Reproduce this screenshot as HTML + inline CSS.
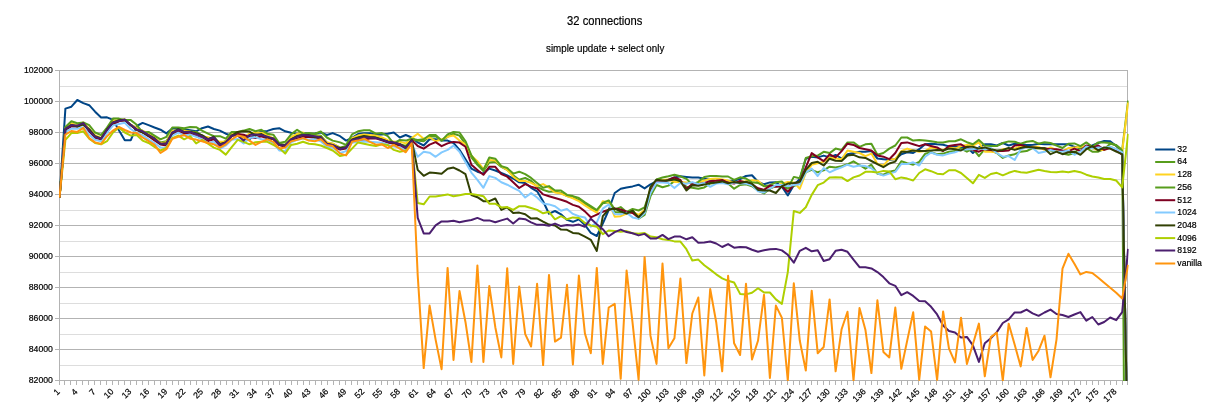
<!DOCTYPE html>
<html><head><meta charset="utf-8"><title>32 connections</title>
<style>
html,body{margin:0;padding:0;background:#fff;}
body{width:1211px;height:413px;overflow:hidden;}
svg{display:block;}
text{font-family:"Liberation Sans",Arial,sans-serif;fill:#000;stroke:#000;stroke-width:0.2px;}
</style></head><body>
<svg width="1211" height="413" viewBox="0 0 1211 413">
<rect x="0" y="0" width="1211" height="413" fill="#ffffff"/>
<defs><clipPath id="plot"><rect x="59" y="69" width="1069.6" height="311.9"/></clipPath></defs>
<g shape-rendering="crispEdges" fill="none" stroke-width="1">
<line x1="60" y1="86.5" x2="1127" y2="86.5" stroke="#dddddd"/>
<line x1="60" y1="117.5" x2="1127" y2="117.5" stroke="#dddddd"/>
<line x1="60" y1="148.5" x2="1127" y2="148.5" stroke="#dddddd"/>
<line x1="60" y1="179.5" x2="1127" y2="179.5" stroke="#dddddd"/>
<line x1="60" y1="210.5" x2="1127" y2="210.5" stroke="#dddddd"/>
<line x1="60" y1="241.5" x2="1127" y2="241.5" stroke="#dddddd"/>
<line x1="60" y1="272.5" x2="1127" y2="272.5" stroke="#dddddd"/>
<line x1="60" y1="303.5" x2="1127" y2="303.5" stroke="#dddddd"/>
<line x1="60" y1="334.5" x2="1127" y2="334.5" stroke="#dddddd"/>
<line x1="60" y1="365.5" x2="1127" y2="365.5" stroke="#dddddd"/>
<line x1="55" y1="70.5" x2="1128" y2="70.5" stroke="#b3b3b3"/>
<line x1="55" y1="101.5" x2="1128" y2="101.5" stroke="#b3b3b3"/>
<line x1="55" y1="132.5" x2="1128" y2="132.5" stroke="#b3b3b3"/>
<line x1="55" y1="163.5" x2="1128" y2="163.5" stroke="#b3b3b3"/>
<line x1="55" y1="194.5" x2="1128" y2="194.5" stroke="#b3b3b3"/>
<line x1="55" y1="225.5" x2="1128" y2="225.5" stroke="#b3b3b3"/>
<line x1="55" y1="256.5" x2="1128" y2="256.5" stroke="#b3b3b3"/>
<line x1="55" y1="287.5" x2="1128" y2="287.5" stroke="#b3b3b3"/>
<line x1="55" y1="318.5" x2="1128" y2="318.5" stroke="#b3b3b3"/>
<line x1="55" y1="349.5" x2="1128" y2="349.5" stroke="#b3b3b3"/>
<line x1="55" y1="380.5" x2="1128" y2="380.5" stroke="#b3b3b3"/>
<line x1="59.5" y1="70" x2="59.5" y2="385" stroke="#b3b3b3"/>
<line x1="1127.5" y1="70" x2="1127.5" y2="381" stroke="#b3b3b3"/>
<line x1="59.5" y1="381" x2="59.5" y2="385" stroke="#b3b3b3"/>
<line x1="64.5" y1="381" x2="64.5" y2="385" stroke="#b3b3b3"/>
<line x1="70.5" y1="381" x2="70.5" y2="385" stroke="#b3b3b3"/>
<line x1="76.5" y1="381" x2="76.5" y2="385" stroke="#b3b3b3"/>
<line x1="82.5" y1="381" x2="82.5" y2="385" stroke="#b3b3b3"/>
<line x1="88.5" y1="381" x2="88.5" y2="385" stroke="#b3b3b3"/>
<line x1="94.5" y1="381" x2="94.5" y2="385" stroke="#b3b3b3"/>
<line x1="100.5" y1="381" x2="100.5" y2="385" stroke="#b3b3b3"/>
<line x1="106.5" y1="381" x2="106.5" y2="385" stroke="#b3b3b3"/>
<line x1="112.5" y1="381" x2="112.5" y2="385" stroke="#b3b3b3"/>
<line x1="118.5" y1="381" x2="118.5" y2="385" stroke="#b3b3b3"/>
<line x1="124.5" y1="381" x2="124.5" y2="385" stroke="#b3b3b3"/>
<line x1="130.5" y1="381" x2="130.5" y2="385" stroke="#b3b3b3"/>
<line x1="136.5" y1="381" x2="136.5" y2="385" stroke="#b3b3b3"/>
<line x1="142.5" y1="381" x2="142.5" y2="385" stroke="#b3b3b3"/>
<line x1="148.5" y1="381" x2="148.5" y2="385" stroke="#b3b3b3"/>
<line x1="154.5" y1="381" x2="154.5" y2="385" stroke="#b3b3b3"/>
<line x1="160.5" y1="381" x2="160.5" y2="385" stroke="#b3b3b3"/>
<line x1="166.5" y1="381" x2="166.5" y2="385" stroke="#b3b3b3"/>
<line x1="172.5" y1="381" x2="172.5" y2="385" stroke="#b3b3b3"/>
<line x1="178.5" y1="381" x2="178.5" y2="385" stroke="#b3b3b3"/>
<line x1="184.5" y1="381" x2="184.5" y2="385" stroke="#b3b3b3"/>
<line x1="190.5" y1="381" x2="190.5" y2="385" stroke="#b3b3b3"/>
<line x1="196.5" y1="381" x2="196.5" y2="385" stroke="#b3b3b3"/>
<line x1="202.5" y1="381" x2="202.5" y2="385" stroke="#b3b3b3"/>
<line x1="208.5" y1="381" x2="208.5" y2="385" stroke="#b3b3b3"/>
<line x1="214.5" y1="381" x2="214.5" y2="385" stroke="#b3b3b3"/>
<line x1="220.5" y1="381" x2="220.5" y2="385" stroke="#b3b3b3"/>
<line x1="226.5" y1="381" x2="226.5" y2="385" stroke="#b3b3b3"/>
<line x1="232.5" y1="381" x2="232.5" y2="385" stroke="#b3b3b3"/>
<line x1="238.5" y1="381" x2="238.5" y2="385" stroke="#b3b3b3"/>
<line x1="244.5" y1="381" x2="244.5" y2="385" stroke="#b3b3b3"/>
<line x1="250.5" y1="381" x2="250.5" y2="385" stroke="#b3b3b3"/>
<line x1="256.5" y1="381" x2="256.5" y2="385" stroke="#b3b3b3"/>
<line x1="262.5" y1="381" x2="262.5" y2="385" stroke="#b3b3b3"/>
<line x1="268.5" y1="381" x2="268.5" y2="385" stroke="#b3b3b3"/>
<line x1="273.5" y1="381" x2="273.5" y2="385" stroke="#b3b3b3"/>
<line x1="279.5" y1="381" x2="279.5" y2="385" stroke="#b3b3b3"/>
<line x1="285.5" y1="381" x2="285.5" y2="385" stroke="#b3b3b3"/>
<line x1="291.5" y1="381" x2="291.5" y2="385" stroke="#b3b3b3"/>
<line x1="297.5" y1="381" x2="297.5" y2="385" stroke="#b3b3b3"/>
<line x1="303.5" y1="381" x2="303.5" y2="385" stroke="#b3b3b3"/>
<line x1="309.5" y1="381" x2="309.5" y2="385" stroke="#b3b3b3"/>
<line x1="315.5" y1="381" x2="315.5" y2="385" stroke="#b3b3b3"/>
<line x1="321.5" y1="381" x2="321.5" y2="385" stroke="#b3b3b3"/>
<line x1="327.5" y1="381" x2="327.5" y2="385" stroke="#b3b3b3"/>
<line x1="333.5" y1="381" x2="333.5" y2="385" stroke="#b3b3b3"/>
<line x1="339.5" y1="381" x2="339.5" y2="385" stroke="#b3b3b3"/>
<line x1="345.5" y1="381" x2="345.5" y2="385" stroke="#b3b3b3"/>
<line x1="351.5" y1="381" x2="351.5" y2="385" stroke="#b3b3b3"/>
<line x1="357.5" y1="381" x2="357.5" y2="385" stroke="#b3b3b3"/>
<line x1="363.5" y1="381" x2="363.5" y2="385" stroke="#b3b3b3"/>
<line x1="369.5" y1="381" x2="369.5" y2="385" stroke="#b3b3b3"/>
<line x1="375.5" y1="381" x2="375.5" y2="385" stroke="#b3b3b3"/>
<line x1="381.5" y1="381" x2="381.5" y2="385" stroke="#b3b3b3"/>
<line x1="387.5" y1="381" x2="387.5" y2="385" stroke="#b3b3b3"/>
<line x1="393.5" y1="381" x2="393.5" y2="385" stroke="#b3b3b3"/>
<line x1="399.5" y1="381" x2="399.5" y2="385" stroke="#b3b3b3"/>
<line x1="405.5" y1="381" x2="405.5" y2="385" stroke="#b3b3b3"/>
<line x1="411.5" y1="381" x2="411.5" y2="385" stroke="#b3b3b3"/>
<line x1="417.5" y1="381" x2="417.5" y2="385" stroke="#b3b3b3"/>
<line x1="423.5" y1="381" x2="423.5" y2="385" stroke="#b3b3b3"/>
<line x1="429.5" y1="381" x2="429.5" y2="385" stroke="#b3b3b3"/>
<line x1="435.5" y1="381" x2="435.5" y2="385" stroke="#b3b3b3"/>
<line x1="441.5" y1="381" x2="441.5" y2="385" stroke="#b3b3b3"/>
<line x1="447.5" y1="381" x2="447.5" y2="385" stroke="#b3b3b3"/>
<line x1="453.5" y1="381" x2="453.5" y2="385" stroke="#b3b3b3"/>
<line x1="459.5" y1="381" x2="459.5" y2="385" stroke="#b3b3b3"/>
<line x1="465.5" y1="381" x2="465.5" y2="385" stroke="#b3b3b3"/>
<line x1="471.5" y1="381" x2="471.5" y2="385" stroke="#b3b3b3"/>
<line x1="477.5" y1="381" x2="477.5" y2="385" stroke="#b3b3b3"/>
<line x1="483.5" y1="381" x2="483.5" y2="385" stroke="#b3b3b3"/>
<line x1="488.5" y1="381" x2="488.5" y2="385" stroke="#b3b3b3"/>
<line x1="494.5" y1="381" x2="494.5" y2="385" stroke="#b3b3b3"/>
<line x1="500.5" y1="381" x2="500.5" y2="385" stroke="#b3b3b3"/>
<line x1="506.5" y1="381" x2="506.5" y2="385" stroke="#b3b3b3"/>
<line x1="512.5" y1="381" x2="512.5" y2="385" stroke="#b3b3b3"/>
<line x1="518.5" y1="381" x2="518.5" y2="385" stroke="#b3b3b3"/>
<line x1="524.5" y1="381" x2="524.5" y2="385" stroke="#b3b3b3"/>
<line x1="530.5" y1="381" x2="530.5" y2="385" stroke="#b3b3b3"/>
<line x1="536.5" y1="381" x2="536.5" y2="385" stroke="#b3b3b3"/>
<line x1="542.5" y1="381" x2="542.5" y2="385" stroke="#b3b3b3"/>
<line x1="548.5" y1="381" x2="548.5" y2="385" stroke="#b3b3b3"/>
<line x1="554.5" y1="381" x2="554.5" y2="385" stroke="#b3b3b3"/>
<line x1="560.5" y1="381" x2="560.5" y2="385" stroke="#b3b3b3"/>
<line x1="566.5" y1="381" x2="566.5" y2="385" stroke="#b3b3b3"/>
<line x1="572.5" y1="381" x2="572.5" y2="385" stroke="#b3b3b3"/>
<line x1="578.5" y1="381" x2="578.5" y2="385" stroke="#b3b3b3"/>
<line x1="584.5" y1="381" x2="584.5" y2="385" stroke="#b3b3b3"/>
<line x1="590.5" y1="381" x2="590.5" y2="385" stroke="#b3b3b3"/>
<line x1="596.5" y1="381" x2="596.5" y2="385" stroke="#b3b3b3"/>
<line x1="602.5" y1="381" x2="602.5" y2="385" stroke="#b3b3b3"/>
<line x1="608.5" y1="381" x2="608.5" y2="385" stroke="#b3b3b3"/>
<line x1="614.5" y1="381" x2="614.5" y2="385" stroke="#b3b3b3"/>
<line x1="620.5" y1="381" x2="620.5" y2="385" stroke="#b3b3b3"/>
<line x1="626.5" y1="381" x2="626.5" y2="385" stroke="#b3b3b3"/>
<line x1="632.5" y1="381" x2="632.5" y2="385" stroke="#b3b3b3"/>
<line x1="638.5" y1="381" x2="638.5" y2="385" stroke="#b3b3b3"/>
<line x1="644.5" y1="381" x2="644.5" y2="385" stroke="#b3b3b3"/>
<line x1="650.5" y1="381" x2="650.5" y2="385" stroke="#b3b3b3"/>
<line x1="656.5" y1="381" x2="656.5" y2="385" stroke="#b3b3b3"/>
<line x1="662.5" y1="381" x2="662.5" y2="385" stroke="#b3b3b3"/>
<line x1="668.5" y1="381" x2="668.5" y2="385" stroke="#b3b3b3"/>
<line x1="674.5" y1="381" x2="674.5" y2="385" stroke="#b3b3b3"/>
<line x1="680.5" y1="381" x2="680.5" y2="385" stroke="#b3b3b3"/>
<line x1="686.5" y1="381" x2="686.5" y2="385" stroke="#b3b3b3"/>
<line x1="692.5" y1="381" x2="692.5" y2="385" stroke="#b3b3b3"/>
<line x1="698.5" y1="381" x2="698.5" y2="385" stroke="#b3b3b3"/>
<line x1="703.5" y1="381" x2="703.5" y2="385" stroke="#b3b3b3"/>
<line x1="709.5" y1="381" x2="709.5" y2="385" stroke="#b3b3b3"/>
<line x1="715.5" y1="381" x2="715.5" y2="385" stroke="#b3b3b3"/>
<line x1="721.5" y1="381" x2="721.5" y2="385" stroke="#b3b3b3"/>
<line x1="727.5" y1="381" x2="727.5" y2="385" stroke="#b3b3b3"/>
<line x1="733.5" y1="381" x2="733.5" y2="385" stroke="#b3b3b3"/>
<line x1="739.5" y1="381" x2="739.5" y2="385" stroke="#b3b3b3"/>
<line x1="745.5" y1="381" x2="745.5" y2="385" stroke="#b3b3b3"/>
<line x1="751.5" y1="381" x2="751.5" y2="385" stroke="#b3b3b3"/>
<line x1="757.5" y1="381" x2="757.5" y2="385" stroke="#b3b3b3"/>
<line x1="763.5" y1="381" x2="763.5" y2="385" stroke="#b3b3b3"/>
<line x1="769.5" y1="381" x2="769.5" y2="385" stroke="#b3b3b3"/>
<line x1="775.5" y1="381" x2="775.5" y2="385" stroke="#b3b3b3"/>
<line x1="781.5" y1="381" x2="781.5" y2="385" stroke="#b3b3b3"/>
<line x1="787.5" y1="381" x2="787.5" y2="385" stroke="#b3b3b3"/>
<line x1="793.5" y1="381" x2="793.5" y2="385" stroke="#b3b3b3"/>
<line x1="799.5" y1="381" x2="799.5" y2="385" stroke="#b3b3b3"/>
<line x1="805.5" y1="381" x2="805.5" y2="385" stroke="#b3b3b3"/>
<line x1="811.5" y1="381" x2="811.5" y2="385" stroke="#b3b3b3"/>
<line x1="817.5" y1="381" x2="817.5" y2="385" stroke="#b3b3b3"/>
<line x1="823.5" y1="381" x2="823.5" y2="385" stroke="#b3b3b3"/>
<line x1="829.5" y1="381" x2="829.5" y2="385" stroke="#b3b3b3"/>
<line x1="835.5" y1="381" x2="835.5" y2="385" stroke="#b3b3b3"/>
<line x1="841.5" y1="381" x2="841.5" y2="385" stroke="#b3b3b3"/>
<line x1="847.5" y1="381" x2="847.5" y2="385" stroke="#b3b3b3"/>
<line x1="853.5" y1="381" x2="853.5" y2="385" stroke="#b3b3b3"/>
<line x1="859.5" y1="381" x2="859.5" y2="385" stroke="#b3b3b3"/>
<line x1="865.5" y1="381" x2="865.5" y2="385" stroke="#b3b3b3"/>
<line x1="871.5" y1="381" x2="871.5" y2="385" stroke="#b3b3b3"/>
<line x1="877.5" y1="381" x2="877.5" y2="385" stroke="#b3b3b3"/>
<line x1="883.5" y1="381" x2="883.5" y2="385" stroke="#b3b3b3"/>
<line x1="889.5" y1="381" x2="889.5" y2="385" stroke="#b3b3b3"/>
<line x1="895.5" y1="381" x2="895.5" y2="385" stroke="#b3b3b3"/>
<line x1="901.5" y1="381" x2="901.5" y2="385" stroke="#b3b3b3"/>
<line x1="907.5" y1="381" x2="907.5" y2="385" stroke="#b3b3b3"/>
<line x1="912.5" y1="381" x2="912.5" y2="385" stroke="#b3b3b3"/>
<line x1="918.5" y1="381" x2="918.5" y2="385" stroke="#b3b3b3"/>
<line x1="924.5" y1="381" x2="924.5" y2="385" stroke="#b3b3b3"/>
<line x1="930.5" y1="381" x2="930.5" y2="385" stroke="#b3b3b3"/>
<line x1="936.5" y1="381" x2="936.5" y2="385" stroke="#b3b3b3"/>
<line x1="942.5" y1="381" x2="942.5" y2="385" stroke="#b3b3b3"/>
<line x1="948.5" y1="381" x2="948.5" y2="385" stroke="#b3b3b3"/>
<line x1="954.5" y1="381" x2="954.5" y2="385" stroke="#b3b3b3"/>
<line x1="960.5" y1="381" x2="960.5" y2="385" stroke="#b3b3b3"/>
<line x1="966.5" y1="381" x2="966.5" y2="385" stroke="#b3b3b3"/>
<line x1="972.5" y1="381" x2="972.5" y2="385" stroke="#b3b3b3"/>
<line x1="978.5" y1="381" x2="978.5" y2="385" stroke="#b3b3b3"/>
<line x1="984.5" y1="381" x2="984.5" y2="385" stroke="#b3b3b3"/>
<line x1="990.5" y1="381" x2="990.5" y2="385" stroke="#b3b3b3"/>
<line x1="996.5" y1="381" x2="996.5" y2="385" stroke="#b3b3b3"/>
<line x1="1002.5" y1="381" x2="1002.5" y2="385" stroke="#b3b3b3"/>
<line x1="1008.5" y1="381" x2="1008.5" y2="385" stroke="#b3b3b3"/>
<line x1="1014.5" y1="381" x2="1014.5" y2="385" stroke="#b3b3b3"/>
<line x1="1020.5" y1="381" x2="1020.5" y2="385" stroke="#b3b3b3"/>
<line x1="1026.5" y1="381" x2="1026.5" y2="385" stroke="#b3b3b3"/>
<line x1="1032.5" y1="381" x2="1032.5" y2="385" stroke="#b3b3b3"/>
<line x1="1038.5" y1="381" x2="1038.5" y2="385" stroke="#b3b3b3"/>
<line x1="1044.5" y1="381" x2="1044.5" y2="385" stroke="#b3b3b3"/>
<line x1="1050.5" y1="381" x2="1050.5" y2="385" stroke="#b3b3b3"/>
<line x1="1056.5" y1="381" x2="1056.5" y2="385" stroke="#b3b3b3"/>
<line x1="1062.5" y1="381" x2="1062.5" y2="385" stroke="#b3b3b3"/>
<line x1="1068.5" y1="381" x2="1068.5" y2="385" stroke="#b3b3b3"/>
<line x1="1074.5" y1="381" x2="1074.5" y2="385" stroke="#b3b3b3"/>
<line x1="1080.5" y1="381" x2="1080.5" y2="385" stroke="#b3b3b3"/>
<line x1="1086.5" y1="381" x2="1086.5" y2="385" stroke="#b3b3b3"/>
<line x1="1092.5" y1="381" x2="1092.5" y2="385" stroke="#b3b3b3"/>
<line x1="1098.5" y1="381" x2="1098.5" y2="385" stroke="#b3b3b3"/>
<line x1="1104.5" y1="381" x2="1104.5" y2="385" stroke="#b3b3b3"/>
<line x1="1110.5" y1="381" x2="1110.5" y2="385" stroke="#b3b3b3"/>
<line x1="1116.5" y1="381" x2="1116.5" y2="385" stroke="#b3b3b3"/>
<line x1="1122.5" y1="381" x2="1122.5" y2="385" stroke="#b3b3b3"/>
<line x1="1127.5" y1="381" x2="1127.5" y2="385" stroke="#b3b3b3"/>
</g>
<g clip-path="url(#plot)" fill="none" stroke-width="2.0" stroke-linejoin="round" stroke-linecap="butt">
<polyline stroke="#004586" points="59.5,197.6 65.4,108.6 71.4,106.7 77.3,100.0 83.3,103.1 89.2,105.2 95.1,111.7 101.1,117.5 107.0,117.3 113.0,119.8 118.9,130.3 124.8,140.2 130.8,140.2 136.7,126.0 142.6,122.9 148.6,125.1 154.5,127.5 160.5,129.7 166.4,133.4 172.3,128.6 178.3,128.6 184.2,129.4 190.2,130.2 196.1,131.3 202.0,128.2 208.0,126.5 213.9,129.0 219.9,130.6 225.8,133.7 231.7,135.6 237.7,134.1 243.6,135.6 249.5,139.3 255.5,134.1 261.4,131.3 267.4,130.9 273.3,129.0 279.2,128.2 285.2,131.3 291.1,132.7 297.1,133.7 303.0,133.1 308.9,133.7 314.9,133.5 320.8,132.5 326.8,135.0 332.7,133.1 340.1,136.2 346.1,140.6 352.0,137.9 358.0,134.1 364.0,133.3 369.9,133.3 375.9,134.8 381.9,134.4 387.8,133.7 393.8,132.5 399.8,137.5 405.8,135.0 411.7,137.5 417.7,142.4 423.7,145.5 429.6,139.3 435.6,139.3 441.6,140.6 447.6,140.6 453.5,143.0 459.5,149.9 465.5,159.2 471.4,168.6 477.4,171.7 483.4,173.6 489.3,168.6 495.3,170.5 501.3,173.0 507.2,175.4 513.2,178.5 519.2,182.3 525.2,182.9 531.1,187.8 537.1,191.3 543.1,201.2 549.0,213.7 555.0,211.0 561.0,214.3 567.0,219.9 572.9,221.8 578.9,219.3 584.9,224.9 590.8,232.9 596.8,236.0 602.8,223.6 608.7,210.0 614.7,193.0 620.7,188.7 626.6,187.4 632.6,186.4 638.6,184.7 644.6,188.4 650.5,184.3 656.5,181.3 662.5,182.1 668.4,179.8 674.4,177.4 680.4,176.3 686.4,176.9 692.3,177.4 698.3,177.5 704.3,178.7 710.2,179.8 716.2,180.6 722.2,180.6 728.1,181.3 734.1,180.6 740.1,179.0 746.0,176.0 752.0,175.3 758.0,181.8 764.0,184.3 769.9,182.4 775.9,182.2 781.9,186.8 787.8,195.5 793.8,185.2 799.8,179.0 805.8,158.7 811.7,156.8 817.7,157.4 823.7,155.6 829.6,157.4 835.6,154.9 841.6,158.5 847.5,154.2 853.5,153.0 859.5,151.7 865.4,151.7 871.4,151.1 877.4,158.5 883.4,159.2 889.3,159.8 895.3,159.2 901.3,154.2 907.2,152.3 913.2,153.0 919.2,149.2 925.1,144.3 931.1,143.7 937.1,144.3 943.1,144.7 949.0,146.4 955.0,146.4 961.0,147.1 966.9,147.1 972.9,153.0 978.9,147.4 984.8,144.3 990.8,144.3 996.8,145.5 1002.8,143.0 1008.7,145.5 1014.7,143.7 1020.7,144.3 1026.6,144.9 1032.6,144.9 1038.6,143.7 1044.5,144.3 1050.5,144.3 1056.5,144.3 1062.5,144.3 1068.4,144.3 1074.4,146.8 1080.4,148.0 1086.3,146.1 1092.3,145.5 1098.3,143.0 1104.2,140.9 1110.2,141.2 1116.2,146.1 1122.2,151.7 1128.1,473.5"/>
<polyline stroke="#579d1c" points="59.5,197.6 65.4,128.6 71.4,124.8 77.3,124.7 83.3,123.7 89.2,129.3 95.1,136.1 101.1,138.6 107.0,129.4 113.0,122.4 118.9,120.4 124.8,120.4 130.8,124.6 136.7,128.5 142.6,130.7 148.6,134.9 154.5,138.4 160.5,142.4 166.4,141.3 172.3,131.2 178.3,129.6 184.2,130.1 190.2,131.6 196.1,131.9 202.0,135.6 208.0,138.7 213.9,137.8 219.9,143.4 225.8,140.9 231.7,135.3 237.7,134.5 243.6,138.2 249.5,133.9 255.5,133.5 261.4,134.6 267.4,136.9 273.3,138.3 279.2,144.0 285.2,144.8 291.1,138.5 297.1,135.1 303.0,134.7 308.9,135.3 314.9,135.0 320.8,135.7 326.8,142.7 332.7,143.7 340.1,147.7 346.1,146.0 352.0,138.2 358.0,137.5 364.0,135.0 369.9,136.6 375.9,137.2 381.9,137.9 387.8,141.2 393.8,142.5 399.8,144.1 405.8,146.0 411.7,139.5 417.7,140.6 423.7,141.2 429.6,136.8 435.6,136.2 441.6,140.6 447.6,136.8 453.5,133.7 459.5,135.6 465.5,144.3 471.4,157.3 477.4,164.9 483.4,171.1 489.3,162.4 495.3,161.8 501.3,166.9 507.2,169.9 513.2,175.4 519.2,179.8 525.2,177.9 531.1,181.0 537.1,186.6 543.1,189.9 549.0,191.8 555.0,191.4 561.0,192.9 567.0,196.1 572.9,197.6 578.9,199.9 584.9,203.8 590.8,207.7 596.8,210.6 602.8,203.2 608.7,202.2 614.7,211.9 620.7,212.5 626.6,212.5 632.6,210.0 638.6,218.7 644.6,215.0 650.5,196.1 656.5,185.0 662.5,187.2 668.4,185.6 674.4,181.2 680.4,181.2 686.4,186.8 692.3,187.7 698.3,188.7 704.3,187.4 710.2,183.6 716.2,182.9 722.2,182.1 728.1,183.6 734.1,188.7 740.1,185.0 746.0,184.3 752.0,186.2 758.0,190.5 764.0,193.4 769.9,188.7 775.9,186.2 781.9,186.2 787.8,188.7 793.8,186.2 799.8,183.6 805.8,172.3 811.7,169.8 817.7,172.3 823.7,170.4 829.6,166.7 835.6,167.5 841.6,166.2 847.5,164.3 853.5,161.3 859.5,165.0 865.4,168.7 871.4,164.7 877.4,173.7 883.4,174.7 889.3,171.8 895.3,170.6 901.3,161.3 907.2,163.1 913.2,164.7 919.2,161.9 925.1,153.8 931.1,152.3 937.1,154.2 943.1,153.6 949.0,151.7 955.0,151.1 961.0,148.6 966.9,151.7 972.9,148.6 978.9,156.1 984.8,149.2 990.8,150.5 996.8,153.0 1002.8,157.9 1008.7,155.4 1014.7,154.2 1020.7,151.7 1026.6,151.1 1032.6,148.0 1038.6,148.6 1044.5,148.0 1050.5,150.5 1056.5,151.7 1062.5,153.6 1068.4,154.8 1074.4,153.0 1080.4,147.4 1086.3,148.0 1092.3,151.7 1098.3,151.7 1104.2,149.2 1110.2,143.7 1116.2,144.9 1122.2,149.9 1128.1,100.6"/>
<polyline stroke="#ffd320" points="59.5,197.6 65.4,128.1 71.4,123.1 77.3,125.6 83.3,122.5 89.2,129.0 95.1,135.5 101.1,137.9 107.0,128.5 113.0,120.2 118.9,120.4 124.8,119.4 130.8,124.9 136.7,127.7 142.6,131.2 148.6,132.8 154.5,137.0 160.5,143.2 166.4,142.3 172.3,130.8 178.3,130.7 184.2,131.1 190.2,131.6 196.1,133.4 202.0,136.3 208.0,137.2 213.9,139.3 219.9,141.8 225.8,141.8 231.7,133.6 237.7,135.8 243.6,138.2 249.5,133.4 255.5,132.5 261.4,132.8 267.4,135.0 273.3,138.3 279.2,144.7 285.2,145.0 291.1,137.0 297.1,133.8 303.0,132.5 308.9,135.9 314.9,136.3 320.8,136.7 326.8,142.2 332.7,143.6 340.1,148.2 346.1,148.1 352.0,138.1 358.0,135.6 364.0,134.4 369.9,135.0 375.9,135.6 381.9,137.5 387.8,140.2 393.8,141.8 399.8,141.8 405.8,143.4 411.7,138.1 417.7,133.7 423.7,138.7 429.6,137.5 435.6,141.2 441.6,139.3 447.6,136.8 453.5,135.6 459.5,140.6 465.5,144.3 471.4,155.8 477.4,161.2 483.4,169.2 489.3,159.9 495.3,160.6 501.3,166.1 507.2,169.9 513.2,176.7 519.2,181.0 525.2,181.0 531.1,182.9 537.1,186.0 543.1,184.1 549.0,187.7 555.0,192.4 561.0,193.6 567.0,196.1 572.9,198.3 578.9,201.1 584.9,205.4 590.8,209.1 596.8,212.6 602.8,201.2 608.7,202.4 614.7,216.7 620.7,216.2 626.6,213.7 632.6,211.9 638.6,214.8 644.6,210.0 650.5,188.3 656.5,180.6 662.5,180.0 668.4,179.4 674.4,181.9 680.4,181.9 686.4,182.5 692.3,183.6 698.3,182.9 704.3,180.5 710.2,178.9 716.2,178.5 722.2,179.5 728.1,180.6 734.1,182.4 740.1,181.8 746.0,181.2 752.0,180.2 758.0,180.8 764.0,186.1 769.9,187.4 775.9,186.1 781.9,183.6 787.8,181.9 793.8,182.4 799.8,188.7 805.8,172.8 811.7,164.9 817.7,163.4 823.7,161.8 829.6,157.4 835.6,158.6 841.6,159.2 847.5,150.5 853.5,151.7 859.5,153.0 865.4,156.1 871.4,153.6 877.4,164.1 883.4,165.4 889.3,159.2 895.3,159.2 901.3,151.1 907.2,148.6 913.2,150.5 919.2,151.7 925.1,151.1 931.1,147.4 937.1,148.6 943.1,149.9 949.0,147.4 955.0,148.6 961.0,146.1 966.9,144.9 972.9,145.5 978.9,142.4 984.8,151.7 990.8,151.7 996.8,152.3 1002.8,149.2 1008.7,148.6 1014.7,148.6 1020.7,146.1 1026.6,147.4 1032.6,146.8 1038.6,146.8 1044.5,149.9 1050.5,147.4 1056.5,149.9 1062.5,151.7 1068.4,148.0 1074.4,147.4 1080.4,146.8 1086.3,146.1 1092.3,148.6 1098.3,149.9 1104.2,149.9 1110.2,146.8 1116.2,149.2 1122.2,151.7 1128.1,102.5"/>
<polyline stroke="#579d1c" points="59.5,196.1 65.4,126.9 71.4,121.3 77.3,123.2 83.3,122.4 89.2,125.1 95.1,132.5 101.1,135.0 107.0,127.5 113.0,118.6 118.9,118.6 124.8,120.1 130.8,120.1 136.7,124.8 142.6,132.5 148.6,131.9 154.5,135.6 160.5,139.3 166.4,136.8 172.3,127.5 178.3,127.5 184.2,128.2 190.2,126.9 196.1,127.2 202.0,130.6 208.0,133.7 213.9,136.2 219.9,136.2 225.8,138.7 231.7,131.9 237.7,131.9 243.6,130.6 249.5,129.0 255.5,131.3 261.4,129.8 267.4,133.7 273.3,134.7 279.2,143.0 285.2,141.8 291.1,134.4 297.1,129.8 303.0,133.7 308.9,133.1 314.9,133.7 320.8,131.5 326.8,137.5 332.7,140.6 340.1,142.4 346.1,144.9 352.0,134.4 358.0,131.3 364.0,130.3 369.9,130.3 375.9,133.7 381.9,133.1 387.8,136.2 393.8,143.7 399.8,139.9 405.8,140.6 411.7,138.7 417.7,139.9 423.7,139.3 429.6,135.0 435.6,135.0 441.6,140.6 447.6,134.4 453.5,131.9 459.5,132.5 465.5,141.2 471.4,155.4 477.4,163.7 483.4,169.9 489.3,157.5 495.3,158.7 501.3,166.1 507.2,168.0 513.2,173.6 519.2,171.7 525.2,174.2 531.1,177.9 537.1,182.9 543.1,187.8 549.0,186.1 555.0,190.5 561.0,190.5 567.0,194.9 572.9,196.1 578.9,198.0 584.9,202.3 590.8,206.0 596.8,210.0 602.8,202.9 608.7,200.4 614.7,209.4 620.7,207.1 626.6,212.0 632.6,208.9 638.6,210.5 644.6,207.4 650.5,189.9 656.5,179.4 662.5,177.5 668.4,176.3 674.4,174.8 680.4,176.3 686.4,178.8 692.3,184.6 698.3,181.8 704.3,177.1 710.2,176.0 716.2,176.0 722.2,176.6 728.1,176.5 734.1,179.9 740.1,177.3 746.0,178.5 752.0,182.3 758.0,182.9 764.0,186.2 769.9,185.2 775.9,182.3 781.9,181.5 787.8,188.1 793.8,176.9 799.8,178.3 805.8,158.0 811.7,156.2 817.7,155.6 823.7,151.8 829.6,153.1 835.6,148.6 841.6,149.9 847.5,142.4 853.5,142.4 859.5,146.8 865.4,144.3 871.4,143.7 877.4,154.8 883.4,153.0 889.3,148.6 895.3,145.5 901.3,137.5 907.2,137.5 913.2,140.6 919.2,139.9 925.1,140.6 931.1,141.2 937.1,142.2 943.1,142.4 949.0,141.2 955.0,141.2 961.0,139.3 966.9,142.2 972.9,144.3 978.9,139.9 984.8,145.5 990.8,146.1 996.8,146.1 1002.8,143.0 1008.7,141.4 1014.7,141.8 1020.7,143.7 1026.6,141.8 1032.6,140.9 1038.6,143.7 1044.5,142.2 1050.5,143.0 1056.5,145.5 1062.5,148.0 1068.4,143.7 1074.4,143.4 1080.4,146.1 1086.3,142.4 1092.3,146.8 1098.3,142.4 1104.2,142.4 1110.2,143.0 1116.2,145.5 1122.2,150.5 1128.1,954.0"/>
<polyline stroke="#7e0021" points="59.5,197.6 65.4,130.0 71.4,126.4 77.3,126.6 83.3,123.4 89.2,131.4 95.1,137.9 101.1,139.6 107.0,130.8 113.0,124.3 118.9,121.3 124.8,120.3 130.8,125.3 136.7,129.9 142.6,132.5 148.6,136.3 154.5,140.5 160.5,144.5 166.4,145.6 172.3,134.4 178.3,131.6 184.2,133.6 190.2,133.3 196.1,136.0 202.0,138.5 208.0,141.1 213.9,139.3 219.9,146.2 225.8,144.4 231.7,136.0 237.7,134.1 243.6,134.8 249.5,137.1 255.5,138.1 261.4,136.3 267.4,138.6 273.3,139.1 279.2,145.1 285.2,146.7 291.1,140.4 297.1,138.7 303.0,136.8 308.9,137.0 314.9,137.7 320.8,137.9 326.8,145.4 332.7,146.9 340.1,149.5 346.1,148.4 352.0,141.7 358.0,139.7 364.0,139.4 369.9,138.5 375.9,138.3 381.9,140.3 387.8,142.5 393.8,143.9 399.8,145.6 405.8,149.7 411.7,139.9 417.7,146.0 423.7,148.7 429.6,144.7 435.6,142.2 441.6,146.2 447.6,143.4 453.5,141.9 459.5,142.6 465.5,146.8 471.4,164.8 477.4,169.9 483.4,174.8 489.3,166.8 495.3,166.8 501.3,174.2 507.2,176.7 513.2,182.3 519.2,188.0 525.2,184.1 531.1,186.6 537.1,188.5 543.1,194.4 549.0,196.2 555.0,198.0 561.0,199.8 567.0,201.8 572.9,204.9 578.9,206.7 584.9,211.4 590.8,217.3 596.8,214.7 602.8,211.7 608.7,209.8 614.7,208.5 620.7,209.5 626.6,211.7 632.6,212.9 638.6,217.4 644.6,211.5 650.5,191.4 656.5,181.2 662.5,181.9 668.4,180.0 674.4,177.5 680.4,180.0 686.4,188.7 692.3,184.0 698.3,184.2 704.3,182.9 710.2,181.2 716.2,180.7 722.2,180.0 728.1,182.8 734.1,183.6 740.1,181.0 746.0,182.4 752.0,184.3 758.0,188.3 764.0,189.9 769.9,185.6 775.9,186.8 781.9,186.2 787.8,191.8 793.8,184.9 799.8,181.7 805.8,167.3 811.7,153.1 817.7,157.4 823.7,161.1 829.6,154.3 835.6,157.4 841.6,151.1 847.5,143.7 853.5,144.9 859.5,148.0 865.4,149.2 871.4,150.5 877.4,155.4 883.4,156.7 889.3,159.2 895.3,153.0 901.3,143.0 907.2,142.4 913.2,144.3 919.2,146.1 925.1,144.3 931.1,146.1 937.1,147.4 943.1,151.1 949.0,146.1 955.0,144.9 961.0,144.3 966.9,148.0 972.9,149.9 978.9,151.7 984.8,149.2 990.8,149.9 996.8,151.1 1002.8,151.1 1008.7,150.5 1014.7,145.5 1020.7,144.9 1026.6,146.8 1032.6,147.4 1038.6,148.0 1044.5,148.6 1050.5,149.2 1056.5,149.2 1062.5,150.5 1068.4,151.1 1074.4,148.6 1080.4,151.1 1086.3,145.5 1092.3,148.0 1098.3,145.5 1104.2,149.9 1110.2,148.0 1116.2,150.5 1122.2,154.8 1128.1,473.5"/>
<polyline stroke="#83caff" points="59.5,197.6 65.4,131.8 71.4,128.6 77.3,128.7 83.3,127.1 89.2,134.7 95.1,139.8 101.1,141.4 107.0,132.9 113.0,125.4 118.9,123.9 124.8,122.8 130.8,129.0 136.7,132.9 142.6,135.1 148.6,139.4 154.5,143.1 160.5,147.6 166.4,147.7 172.3,135.7 178.3,132.7 184.2,135.5 190.2,134.6 196.1,136.7 202.0,139.2 208.0,143.1 213.9,141.5 219.9,149.0 225.8,145.5 231.7,139.7 237.7,138.9 243.6,143.4 249.5,137.9 255.5,137.1 261.4,139.3 267.4,139.8 273.3,143.0 279.2,150.5 285.2,151.1 291.1,142.4 297.1,139.9 303.0,138.6 308.9,139.8 314.9,139.2 320.8,141.3 326.8,146.7 332.7,147.6 340.1,153.0 346.1,151.1 352.0,142.7 358.0,141.8 364.0,141.6 369.9,141.7 375.9,142.3 381.9,142.8 387.8,144.8 393.8,146.6 399.8,147.2 405.8,150.7 411.7,143.8 417.7,156.8 423.7,151.8 429.6,152.7 435.6,156.8 441.6,152.4 447.6,149.9 453.5,145.6 459.5,151.8 465.5,162.3 471.4,172.6 477.4,179.8 483.4,187.8 489.3,176.1 495.3,177.9 501.3,182.3 507.2,184.7 513.2,187.8 519.2,190.8 525.2,197.5 531.1,193.1 537.1,197.5 543.1,203.4 549.0,204.4 555.0,206.2 561.0,210.8 567.0,208.9 572.9,213.9 578.9,216.2 584.9,217.4 590.8,226.7 596.8,222.4 602.8,208.6 608.7,204.5 614.7,214.1 620.7,214.2 626.6,212.6 632.6,217.4 638.6,218.7 644.6,213.1 650.5,193.0 656.5,182.5 662.5,182.5 668.4,183.1 674.4,188.1 680.4,183.1 686.4,183.7 692.3,182.1 698.3,184.3 704.3,183.0 710.2,186.8 716.2,183.6 722.2,183.0 728.1,184.3 734.1,182.4 740.1,183.6 746.0,183.6 752.0,185.2 758.0,191.2 764.0,192.4 769.9,188.7 775.9,185.0 781.9,185.0 787.8,186.2 793.8,185.0 799.8,184.3 805.8,172.3 811.7,168.6 817.7,176.0 823.7,168.0 829.6,172.3 835.6,169.5 841.6,167.4 847.5,164.7 853.5,166.8 859.5,165.5 865.4,166.1 871.4,168.3 877.4,173.3 883.4,175.6 889.3,173.6 895.3,171.9 901.3,164.0 907.2,164.1 913.2,162.3 919.2,165.5 925.1,156.8 931.1,152.5 937.1,154.8 943.1,155.4 949.0,153.6 955.0,152.3 961.0,149.9 966.9,149.2 972.9,149.2 978.9,148.0 984.8,149.2 990.8,148.0 996.8,153.0 1002.8,156.7 1008.7,156.1 1014.7,160.0 1020.7,149.2 1026.6,147.4 1032.6,148.0 1038.6,153.0 1044.5,151.7 1050.5,149.9 1056.5,151.7 1062.5,151.7 1068.4,150.5 1074.4,154.8 1080.4,151.7 1086.3,146.4 1092.3,148.6 1098.3,147.4 1104.2,148.0 1110.2,146.8 1116.2,149.2 1122.2,152.3 1128.1,473.5"/>
<polyline stroke="#314004" points="59.5,197.6 65.4,129.3 71.4,124.9 77.3,126.6 83.3,124.6 89.2,129.2 95.1,136.3 101.1,138.5 107.0,129.2 113.0,122.5 118.9,120.3 124.8,119.5 130.8,125.3 136.7,129.7 142.6,132.4 148.6,135.5 154.5,138.5 160.5,144.0 166.4,143.3 172.3,133.0 178.3,129.2 184.2,132.1 190.2,131.7 196.1,133.3 202.0,135.2 208.0,139.1 213.9,136.8 219.9,144.1 225.8,142.3 231.7,135.5 237.7,131.9 243.6,131.3 249.5,131.6 255.5,135.4 261.4,134.0 267.4,137.6 273.3,138.6 279.2,144.6 285.2,145.3 291.1,139.4 297.1,136.2 303.0,135.1 308.9,135.1 314.9,137.2 320.8,136.9 326.8,143.7 332.7,145.2 340.1,148.1 346.1,147.5 352.0,139.4 358.0,137.5 364.0,136.0 369.9,137.0 375.9,137.6 381.9,139.4 387.8,141.4 393.8,142.7 399.8,144.2 405.8,147.3 411.7,140.2 417.7,169.9 423.7,175.8 429.6,172.6 435.6,172.9 441.6,173.8 447.6,168.8 453.5,167.6 459.5,170.5 465.5,174.2 471.4,195.0 477.4,197.2 483.4,201.2 489.3,201.2 495.3,198.5 501.3,209.9 507.2,207.4 513.2,213.0 519.2,212.6 525.2,214.2 531.1,218.6 537.1,218.3 543.1,221.7 549.0,224.6 555.0,225.5 561.0,229.6 567.0,229.8 572.9,232.9 578.9,233.6 584.9,236.7 590.8,239.8 596.8,250.9 602.8,216.2 608.7,209.5 614.7,208.6 620.7,211.4 626.6,213.6 632.6,210.7 638.6,217.3 644.6,211.1 650.5,186.8 656.5,179.7 662.5,180.6 668.4,180.6 674.4,179.4 680.4,181.2 686.4,190.5 692.3,185.3 698.3,185.8 704.3,184.6 710.2,183.0 716.2,182.4 722.2,181.4 728.1,183.4 734.1,181.9 740.1,183.0 746.0,181.7 752.0,183.7 758.0,189.9 764.0,190.5 769.9,190.5 775.9,193.0 781.9,186.2 787.8,183.6 793.8,183.0 799.8,181.7 805.8,169.8 811.7,163.0 817.7,161.8 823.7,165.5 829.6,158.7 835.6,160.8 841.6,161.0 847.5,155.4 853.5,154.8 859.5,157.3 865.4,157.9 871.4,161.0 877.4,164.1 883.4,167.2 889.3,163.5 895.3,161.6 901.3,151.7 907.2,151.7 913.2,150.5 919.2,151.1 925.1,151.1 931.1,150.5 937.1,149.9 943.1,150.5 949.0,148.6 955.0,149.2 961.0,150.5 966.9,146.8 972.9,146.8 978.9,148.6 984.8,147.4 990.8,149.2 996.8,150.5 1002.8,149.9 1008.7,148.0 1014.7,149.9 1020.7,148.0 1026.6,146.8 1032.6,147.4 1038.6,148.0 1044.5,148.6 1050.5,154.2 1056.5,151.7 1062.5,154.2 1068.4,152.3 1074.4,151.7 1080.4,154.8 1086.3,149.2 1092.3,146.1 1098.3,150.5 1104.2,147.4 1110.2,148.6 1116.2,151.7 1122.2,154.2 1128.1,473.5"/>
<polyline stroke="#aecf00" points="59.5,197.6 65.4,139.9 71.4,133.1 77.3,133.1 83.3,131.3 89.2,138.7 95.1,143.0 101.1,144.3 107.0,141.2 113.0,132.5 118.9,127.5 124.8,132.5 130.8,135.6 136.7,135.0 142.6,140.6 148.6,143.0 154.5,146.8 160.5,150.5 166.4,148.0 172.3,138.1 178.3,135.6 184.2,139.3 190.2,136.2 196.1,143.4 202.0,139.9 208.0,143.7 213.9,147.6 219.9,149.9 225.8,154.6 231.7,147.1 237.7,139.9 243.6,141.8 249.5,144.3 255.5,142.2 261.4,141.8 267.4,141.8 273.3,144.9 279.2,148.0 285.2,153.6 291.1,144.9 297.1,143.7 303.0,141.8 308.9,143.7 314.9,144.3 320.8,145.5 326.8,148.0 332.7,150.5 340.1,156.1 346.1,154.8 352.0,148.6 358.0,142.4 364.0,143.7 369.9,144.9 375.9,146.1 381.9,144.3 387.8,144.9 393.8,149.9 399.8,151.7 405.8,150.5 411.7,141.8 417.7,203.1 423.7,204.3 429.6,196.5 435.6,196.5 441.6,195.6 447.6,194.4 453.5,196.2 459.5,195.2 465.5,194.0 471.4,194.0 477.4,195.0 483.4,196.2 489.3,203.7 495.3,203.7 501.3,207.4 507.2,207.1 513.2,209.9 519.2,206.2 525.2,206.2 531.1,208.0 537.1,209.9 543.1,213.3 549.0,211.8 555.0,219.3 561.0,216.2 567.0,219.3 572.9,217.4 578.9,218.1 584.9,223.0 590.8,225.5 596.8,226.7 602.8,234.2 608.7,230.5 614.7,231.1 620.7,231.7 626.6,231.1 632.6,233.2 638.6,233.8 644.6,233.1 650.5,236.6 656.5,237.3 662.5,239.3 668.4,239.9 674.4,241.4 680.4,241.6 686.4,249.2 692.3,260.5 698.3,259.6 704.3,265.3 710.2,269.6 716.2,274.3 722.2,278.3 728.1,280.8 734.1,282.5 740.1,293.9 746.0,294.4 752.0,292.7 758.0,288.2 764.0,292.5 769.9,292.5 775.9,299.4 781.9,303.9 787.8,272.1 793.8,211.0 799.8,212.9 805.8,207.3 811.7,194.9 817.7,185.2 823.7,182.6 829.6,177.6 835.6,177.3 841.6,177.4 847.5,181.1 853.5,177.4 859.5,175.5 865.4,171.8 871.4,171.8 877.4,172.4 883.4,170.9 889.3,171.4 895.3,179.2 901.3,177.4 907.2,178.6 913.2,180.5 919.2,173.0 925.1,169.3 931.1,171.2 937.1,173.7 943.1,174.3 949.0,170.2 955.0,170.2 961.0,173.0 966.9,178.0 972.9,183.3 978.9,174.9 984.8,177.9 990.8,174.0 996.8,172.8 1002.8,175.3 1008.7,172.8 1014.7,170.9 1020.7,172.2 1026.6,172.8 1032.6,171.2 1038.6,169.7 1044.5,170.9 1050.5,171.9 1056.5,172.2 1062.5,171.6 1068.4,172.2 1074.4,170.9 1080.4,172.2 1086.3,174.7 1092.3,176.5 1098.3,177.5 1104.2,179.0 1110.2,179.0 1116.2,180.5 1122.2,187.4 1128.1,133.9"/>
<polyline stroke="#4b1f6f" points="59.5,197.6 65.4,128.8 71.4,125.1 77.3,125.7 83.3,123.2 89.2,130.6 95.1,136.8 101.1,138.7 107.0,130.0 113.0,122.4 118.9,121.0 124.8,119.7 130.8,124.9 136.7,129.4 142.6,131.3 148.6,135.0 154.5,138.7 160.5,143.7 166.4,143.7 172.3,132.5 178.3,130.0 184.2,131.9 190.2,131.9 196.1,134.1 202.0,136.5 208.0,139.3 213.9,137.5 219.9,144.9 225.8,142.4 231.7,135.6 237.7,135.6 243.6,140.6 249.5,135.0 255.5,134.4 261.4,135.0 267.4,136.8 273.3,138.7 279.2,144.9 285.2,145.5 291.1,139.3 297.1,136.8 303.0,135.0 308.9,135.6 314.9,136.2 320.8,137.5 326.8,143.7 332.7,144.9 340.1,149.2 346.1,147.4 352.0,139.9 358.0,138.7 364.0,137.5 369.9,137.5 375.9,138.1 381.9,139.9 387.8,141.8 393.8,142.4 399.8,144.3 405.8,148.0 411.7,140.6 417.7,217.9 423.7,233.4 429.6,233.4 435.6,225.4 441.6,221.4 447.6,221.4 453.5,220.8 459.5,222.3 465.5,221.0 471.4,220.0 477.4,217.9 483.4,220.4 489.3,220.4 495.3,222.3 501.3,220.4 507.2,218.6 513.2,223.5 519.2,218.6 525.2,219.2 531.1,222.3 537.1,224.8 543.1,224.8 549.0,225.7 555.0,223.6 561.0,226.1 567.0,224.9 572.9,225.5 578.9,224.6 584.9,226.7 590.8,218.7 596.8,224.3 602.8,229.2 608.7,236.3 614.7,232.1 620.7,229.6 626.6,232.1 632.6,233.3 638.6,235.4 644.6,233.9 650.5,238.5 656.5,238.4 662.5,234.9 668.4,239.1 674.4,236.6 680.4,236.6 686.4,239.3 692.3,237.3 698.3,242.7 704.3,242.4 710.2,241.5 716.2,243.5 722.2,247.0 728.1,244.1 734.1,247.7 740.1,247.0 746.0,247.3 752.0,249.7 758.0,251.8 764.0,250.3 769.9,249.3 775.9,248.9 781.9,250.4 787.8,254.8 793.8,262.7 799.8,250.8 805.8,247.8 811.7,251.3 817.7,250.3 823.7,261.0 829.6,259.2 835.6,250.8 841.6,249.8 847.5,251.8 853.5,259.7 859.5,267.2 865.4,267.2 871.4,268.4 877.4,272.1 883.4,277.1 889.3,283.3 895.3,285.8 901.3,295.1 907.2,292.2 913.2,295.9 919.2,301.1 925.1,301.3 931.1,306.8 937.1,314.4 943.1,325.5 949.0,331.1 955.0,332.4 961.0,337.5 966.9,336.9 972.9,345.4 978.9,361.9 984.8,343.3 990.8,338.3 996.8,332.1 1002.8,323.0 1008.7,319.4 1014.7,312.4 1020.7,312.5 1026.6,309.6 1032.6,313.3 1038.6,315.8 1044.5,312.5 1050.5,309.6 1056.5,314.0 1062.5,315.0 1068.4,317.0 1074.4,314.5 1080.4,312.1 1086.3,320.7 1092.3,317.0 1098.3,324.5 1104.2,322.0 1110.2,317.5 1116.2,320.2 1122.2,312.1 1128.1,248.8"/>
<polyline stroke="#ff950e" points="59.5,197.6 65.4,134.7 71.4,131.0 77.3,131.9 83.3,127.8 89.2,138.1 95.1,142.4 101.1,143.9 107.0,136.2 113.0,130.6 118.9,126.9 124.8,130.0 130.8,132.5 136.7,133.1 142.6,137.5 148.6,141.2 154.5,144.9 160.5,153.0 166.4,149.2 172.3,138.7 178.3,136.8 184.2,135.0 190.2,138.7 196.1,139.6 202.0,141.2 208.0,143.0 213.9,144.3 219.9,147.6 225.8,144.3 231.7,139.3 237.7,135.6 243.6,136.8 249.5,140.6 255.5,144.9 261.4,141.8 267.4,139.3 273.3,141.8 279.2,148.6 285.2,147.6 291.1,141.4 297.1,139.9 303.0,138.1 308.9,140.6 314.9,141.2 320.8,139.3 326.8,144.9 332.7,146.1 340.1,153.6 346.1,155.4 352.0,141.8 358.0,140.6 364.0,138.7 369.9,141.8 375.9,144.7 381.9,144.3 387.8,148.0 393.8,144.9 399.8,148.6 405.8,152.3 411.7,143.4 417.7,275.1 423.7,368.1 429.6,305.6 435.6,339.6 441.6,369.3 447.6,267.9 453.5,359.9 459.5,291.0 465.5,322.2 471.4,361.9 477.4,265.4 483.4,361.9 489.3,286.0 495.3,327.2 501.3,357.4 507.2,268.2 513.2,363.9 519.2,286.5 525.2,334.1 531.1,346.5 537.1,283.8 543.1,365.1 549.0,274.9 555.0,341.6 561.0,337.6 567.0,284.8 572.9,364.4 578.9,275.6 584.9,333.4 590.8,353.2 596.8,267.9 602.8,363.9 608.7,307.5 614.7,303.9 620.7,378.8 626.6,270.6 632.6,323.1 638.6,379.8 644.6,256.9 650.5,335.9 656.5,363.9 662.5,263.6 668.4,348.3 674.4,338.3 680.4,278.6 686.4,363.1 692.3,313.5 698.3,297.5 704.3,375.5 710.2,289.0 716.2,322.2 722.2,371.3 728.1,275.8 734.1,343.3 740.1,355.0 746.0,283.8 752.0,359.4 758.0,340.8 764.0,294.8 769.9,378.0 775.9,305.6 781.9,317.9 787.8,380.5 793.8,283.3 799.8,340.8 805.8,370.6 811.7,290.7 817.7,353.2 823.7,347.0 829.6,299.4 835.6,371.3 841.6,329.2 847.5,311.8 853.5,380.5 859.5,308.0 865.4,329.7 871.4,373.1 877.4,300.3 883.4,352.0 889.3,357.4 895.3,307.5 901.3,368.8 907.2,340.6 913.2,312.3 919.2,379.8 925.1,326.4 931.1,331.6 937.1,379.8 943.1,311.5 949.0,348.6 955.0,362.4 961.0,317.7 966.9,363.9 972.9,344.3 978.9,323.6 984.8,376.3 990.8,337.1 996.8,332.6 1002.8,380.5 1008.7,323.7 1014.7,344.8 1020.7,366.4 1026.6,327.9 1032.6,359.9 1038.6,350.7 1044.5,335.7 1050.5,377.3 1056.5,339.6 1062.5,268.7 1068.4,253.8 1074.4,263.7 1080.4,274.4 1086.3,271.9 1092.3,272.9 1098.3,277.8 1104.2,282.8 1110.2,287.7 1116.2,292.7 1122.2,298.4 1128.1,264.9"/>
</g>
<g font-size="8.7" text-anchor="end">
<text x="52.9" y="72.6">102000</text>
<text x="52.9" y="103.6">100000</text>
<text x="52.9" y="134.6">98000</text>
<text x="52.9" y="165.6">96000</text>
<text x="52.9" y="196.6">94000</text>
<text x="52.9" y="227.6">92000</text>
<text x="52.9" y="258.6">90000</text>
<text x="52.9" y="289.6">88000</text>
<text x="52.9" y="320.6">86000</text>
<text x="52.9" y="351.6">84000</text>
<text x="52.9" y="382.6">82000</text>
</g>
<g font-size="8.7" text-anchor="end">
<text transform="translate(60.4,392.2) rotate(-45)">1</text>
<text transform="translate(78.3,392.2) rotate(-45)">4</text>
<text transform="translate(96.2,392.2) rotate(-45)">7</text>
<text transform="translate(114.1,392.2) rotate(-45)">10</text>
<text transform="translate(132.0,392.2) rotate(-45)">13</text>
<text transform="translate(150.0,392.2) rotate(-45)">16</text>
<text transform="translate(167.9,392.2) rotate(-45)">19</text>
<text transform="translate(185.8,392.2) rotate(-45)">22</text>
<text transform="translate(203.7,392.2) rotate(-45)">25</text>
<text transform="translate(221.6,392.2) rotate(-45)">28</text>
<text transform="translate(239.5,392.2) rotate(-45)">31</text>
<text transform="translate(257.4,392.2) rotate(-45)">34</text>
<text transform="translate(275.3,392.2) rotate(-45)">37</text>
<text transform="translate(293.2,392.2) rotate(-45)">40</text>
<text transform="translate(311.1,392.2) rotate(-45)">43</text>
<text transform="translate(329.0,392.2) rotate(-45)">46</text>
<text transform="translate(347.0,392.2) rotate(-45)">49</text>
<text transform="translate(364.9,392.2) rotate(-45)">52</text>
<text transform="translate(382.8,392.2) rotate(-45)">55</text>
<text transform="translate(400.7,392.2) rotate(-45)">58</text>
<text transform="translate(418.6,392.2) rotate(-45)">61</text>
<text transform="translate(436.5,392.2) rotate(-45)">64</text>
<text transform="translate(454.4,392.2) rotate(-45)">67</text>
<text transform="translate(472.3,392.2) rotate(-45)">70</text>
<text transform="translate(490.2,392.2) rotate(-45)">73</text>
<text transform="translate(508.1,392.2) rotate(-45)">76</text>
<text transform="translate(526.1,392.2) rotate(-45)">79</text>
<text transform="translate(544.0,392.2) rotate(-45)">82</text>
<text transform="translate(561.9,392.2) rotate(-45)">85</text>
<text transform="translate(579.8,392.2) rotate(-45)">88</text>
<text transform="translate(597.7,392.2) rotate(-45)">91</text>
<text transform="translate(615.6,392.2) rotate(-45)">94</text>
<text transform="translate(633.5,392.2) rotate(-45)">97</text>
<text transform="translate(651.4,392.2) rotate(-45)">100</text>
<text transform="translate(669.3,392.2) rotate(-45)">103</text>
<text transform="translate(687.2,392.2) rotate(-45)">106</text>
<text transform="translate(705.2,392.2) rotate(-45)">109</text>
<text transform="translate(723.1,392.2) rotate(-45)">112</text>
<text transform="translate(741.0,392.2) rotate(-45)">115</text>
<text transform="translate(758.9,392.2) rotate(-45)">118</text>
<text transform="translate(776.8,392.2) rotate(-45)">121</text>
<text transform="translate(794.7,392.2) rotate(-45)">124</text>
<text transform="translate(812.6,392.2) rotate(-45)">127</text>
<text transform="translate(830.5,392.2) rotate(-45)">130</text>
<text transform="translate(848.4,392.2) rotate(-45)">133</text>
<text transform="translate(866.3,392.2) rotate(-45)">136</text>
<text transform="translate(884.3,392.2) rotate(-45)">139</text>
<text transform="translate(902.2,392.2) rotate(-45)">142</text>
<text transform="translate(920.1,392.2) rotate(-45)">145</text>
<text transform="translate(938.0,392.2) rotate(-45)">148</text>
<text transform="translate(955.9,392.2) rotate(-45)">151</text>
<text transform="translate(973.8,392.2) rotate(-45)">154</text>
<text transform="translate(991.7,392.2) rotate(-45)">157</text>
<text transform="translate(1009.6,392.2) rotate(-45)">160</text>
<text transform="translate(1027.5,392.2) rotate(-45)">163</text>
<text transform="translate(1045.5,392.2) rotate(-45)">166</text>
<text transform="translate(1063.4,392.2) rotate(-45)">169</text>
<text transform="translate(1081.3,392.2) rotate(-45)">172</text>
<text transform="translate(1099.2,392.2) rotate(-45)">175</text>
<text transform="translate(1117.1,392.2) rotate(-45)">178</text>
</g>
<text x="567.1" y="24.7" font-size="12.5" textLength="75.3" lengthAdjust="spacingAndGlyphs">32 connections</text>
<text x="546.0" y="51.8" font-size="11" textLength="118.3" lengthAdjust="spacingAndGlyphs">simple update + select only</text>
<g font-size="8.7">
<line x1="1155.2" y1="149.5" x2="1175.2" y2="149.5" stroke="#004586" stroke-width="2.0"/><text x="1177.3" y="151.9">32</text>
<line x1="1155.2" y1="162.0" x2="1175.2" y2="162.0" stroke="#579d1c" stroke-width="2.0"/><text x="1177.3" y="164.4">64</text>
<line x1="1155.2" y1="174.5" x2="1175.2" y2="174.5" stroke="#ffd320" stroke-width="2.0"/><text x="1177.3" y="176.9">128</text>
<line x1="1155.2" y1="187.5" x2="1175.2" y2="187.5" stroke="#579d1c" stroke-width="2.0"/><text x="1177.3" y="189.9">256</text>
<line x1="1155.2" y1="200.2" x2="1175.2" y2="200.2" stroke="#7e0021" stroke-width="2.0"/><text x="1177.3" y="202.6">512</text>
<line x1="1155.2" y1="212.5" x2="1175.2" y2="212.5" stroke="#83caff" stroke-width="2.0"/><text x="1177.3" y="214.9">1024</text>
<line x1="1155.2" y1="225.4" x2="1175.2" y2="225.4" stroke="#314004" stroke-width="2.0"/><text x="1177.3" y="227.8">2048</text>
<line x1="1155.2" y1="238.1" x2="1175.2" y2="238.1" stroke="#aecf00" stroke-width="2.0"/><text x="1177.3" y="240.5">4096</text>
<line x1="1155.2" y1="250.5" x2="1175.2" y2="250.5" stroke="#4b1f6f" stroke-width="2.0"/><text x="1177.3" y="252.9">8192</text>
<line x1="1155.2" y1="263.5" x2="1175.2" y2="263.5" stroke="#ff950e" stroke-width="2.0"/><text x="1177.3" y="265.9">vanilla</text>
</g>
</svg>
</body></html>
